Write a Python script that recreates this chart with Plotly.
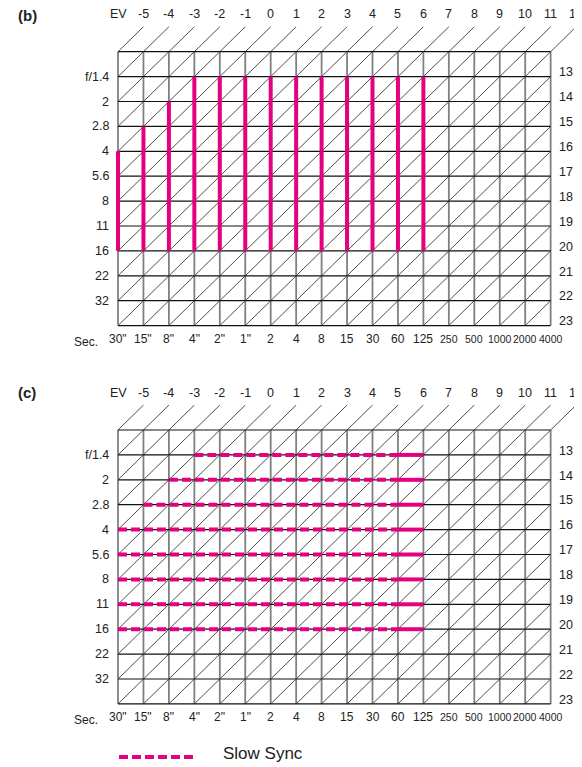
import plotly.graph_objects as go

# ---- data ----
speeds = ['30"', '15"', '8"', '4"', '2"', '1"', '2', '4', '8', '15', '30', '60',
          '125', '250', '500', '1000', '2000', '4000']
narrow_speeds = ['250', '500', '1000', '2000', '4000']
apertures = ['f/1.4', '2', '2.8', '4', '5.6', '8', '11', '16', '22', '32']
ev_top = ['EV'] + [str(v) for v in range(-5, 13)]
ev_right = [str(v) for v in range(13, 24)]

# (b) usable aperture range for each shutter speed
b_speeds = ['30"', '15"', '8"', '4"', '2"', '1"', '2', '4', '8', '15', '30', '60', '125']
b_widest = ['4', '2.8', '2', 'f/1.4', 'f/1.4', 'f/1.4', 'f/1.4', 'f/1.4', 'f/1.4',
            'f/1.4', 'f/1.4', 'f/1.4', 'f/1.4']
b_smallest = ['16'] * len(b_speeds)

# (c) slow sync range for each aperture
c_apertures = ['f/1.4', '2', '2.8', '4', '5.6', '8', '11', '16']
c_slowest = ['4"', '8"', '15"', '30"', '30"', '30"', '30"', '30"']
c_dash_end = '60'
c_fastest = '125'

MAGENTA = '#e4007f'
TXT = '#222222'
FONT = 'Liberation Sans, Arial, sans-serif'

n_cols = len(speeds) - 1      # 17 cells across
n_rows = len(apertures) + 1   # 11 cells down

OFF = 8                       # page body margin
W, H = 582, 767 - OFF
CW, RH = 25.45, 24.9          # pixel size of one cell
X0 = 118 - OFF                # left edge of grids
SPLIT = 365 - OFF             # pixel row where panel (c) starts
B_TOP, C_TOP = 51.7 - OFF, 430 - OFF


def sx(s):
    return speeds.index(s)


def ar(a):
    return apertures.index(a) + 1


fig = go.Figure()


def add_grid(xa, ya):
    hx, hy = [], []
    for r in range(n_rows + 1):
        hx += [0, n_cols, None]
        hy += [r, r, None]
    vx, vy = [], []
    for i in range(n_cols + 1):
        vx += [i, i, None]
        vy += [0, n_rows, None]
    dx, dy = [], []
    for k in range(n_cols + n_rows + 1):
        x_start = max(0, k - n_rows)
        y_start = k - x_start
        if k <= n_cols:
            x_end, y_end = k + 1, -1
        else:
            x_end, y_end = n_cols, k - n_cols
        dx += [x_start, x_end, None]
        dy += [y_start, y_end, None]
    fig.add_trace(go.Scatter(x=dx, y=dy, mode='lines', xaxis=xa, yaxis=ya,
                             line=dict(color='#3a3a3a', width=0.9), hoverinfo='skip'))
    fig.add_trace(go.Scatter(x=vx, y=vy, mode='lines', xaxis=xa, yaxis=ya,
                             line=dict(color='#808080', width=1.8), hoverinfo='skip'))
    fig.add_trace(go.Scatter(x=hx, y=hy, mode='lines', xaxis=xa, yaxis=ya,
                             line=dict(color='#111111', width=1.2), hoverinfo='skip'))


def add_labels(xr, yr):
    for i, t in enumerate(ev_top):
        fig.add_annotation(x=i, y=-1.5, xref=xr, yref=yr, text=t, showarrow=False,
                           font=dict(size=12.5, color=TXT, family=FONT))
    for j, t in enumerate(apertures):
        fig.add_annotation(x=-0.27, y=j + 1, xref=xr, yref=yr, text=t, showarrow=False,
                           xanchor='right', font=dict(size=12.5, color=TXT, family=FONT))
    for j, t in enumerate(ev_right):
        fig.add_annotation(x=n_cols + 0.25, y=j + 1 - 0.17, xref=xr, yref=yr, text=t,
                           showarrow=False, xanchor='left',
                           font=dict(size=12.5, color=TXT, family=FONT))
    for i, t in enumerate(speeds):
        size = 10.5 if t in narrow_speeds else 12
        fig.add_annotation(x=i, y=n_rows + 0.53, xref=xr, yref=yr, text=t, showarrow=False,
                           font=dict(size=size, color=TXT, family=FONT))
    fig.add_annotation(x=-0.7, y=n_rows + 0.65, xref=xr, yref=yr, text='Sec.', showarrow=False,
                       xanchor='right', font=dict(size=12, color=TXT, family=FONT))


# panel (b)
add_grid('x', 'y')
bx, by = [], []
for s, top, bot in zip(b_speeds, b_widest, b_smallest):
    bx += [sx(s), sx(s), None]
    by += [ar(top), ar(bot), None]
fig.add_trace(go.Scatter(x=bx, y=by, mode='lines', xaxis='x', yaxis='y',
                         line=dict(color=MAGENTA, width=4), hoverinfo='skip'))
add_labels('x', 'y')

# panel (c)
add_grid('x2', 'y2')
dx, dy, fx, fy = [], [], [], []
for a, s in zip(c_apertures, c_slowest):
    dx += [sx(s), sx(c_dash_end), None]
    dy += [ar(a), ar(a), None]
    fx += [sx(c_dash_end), sx(c_fastest), None]
    fy += [ar(a), ar(a), None]
fig.add_trace(go.Scatter(x=dx, y=dy, mode='lines', xaxis='x2', yaxis='y2',
                         line=dict(color=MAGENTA, width=4, dash='9px,4px'), hoverinfo='skip'))
fig.add_trace(go.Scatter(x=fx, y=fy, mode='lines', xaxis='x2', yaxis='y2',
                         line=dict(color=MAGENTA, width=4), hoverinfo='skip'))
add_labels('x2', 'y2')

# panel tags
for tag, ty in [('(b)', 15), ('(c)', 392)]:
    fig.add_annotation(x=(27 - OFF) / W, y=1 - (ty - OFF) / H, xref='paper', yref='paper',
                       text='<b>%s</b>' % tag, showarrow=False,
                       xanchor='center', yanchor='middle',
                       font=dict(size=15, color=TXT, family=FONT))

# legend
fig.add_shape(type='line', xref='paper', yref='paper',
              x0=(119 - OFF) / W, x1=(194 - OFF) / W,
              y0=1 - (757 - OFF) / H, y1=1 - (757 - OFF) / H,
              line=dict(color=MAGENTA, width=4, dash='9px,4px'))
fig.add_annotation(x=(221 - OFF) / W, y=1 - (753 - OFF) / H, xref='paper', yref='paper',
                   text='Slow Sync', showarrow=False, xanchor='left', yanchor='middle',
                   font=dict(size=17, color=TXT, family=FONT))

xrange = [-X0 / CW, (W - X0) / CW]
ax = dict(visible=False, fixedrange=True)
fig.update_layout(
    width=W, height=H,
    margin=dict(l=0, r=0, t=0, b=0),
    paper_bgcolor='white', plot_bgcolor='white',
    showlegend=False,
    xaxis=dict(ax, domain=[0, 1], range=xrange, anchor='y'),
    yaxis=dict(ax, domain=[1 - SPLIT / H, 1],
               range=[(SPLIT - B_TOP) / RH, -B_TOP / RH], anchor='x'),
    xaxis2=dict(ax, domain=[0, 1], range=xrange, anchor='y2'),
    yaxis2=dict(ax, domain=[0, 1 - SPLIT / H],
                range=[(H - C_TOP) / RH, (SPLIT - C_TOP) / RH], anchor='x2'),
)

fig.write_html("out.html")
